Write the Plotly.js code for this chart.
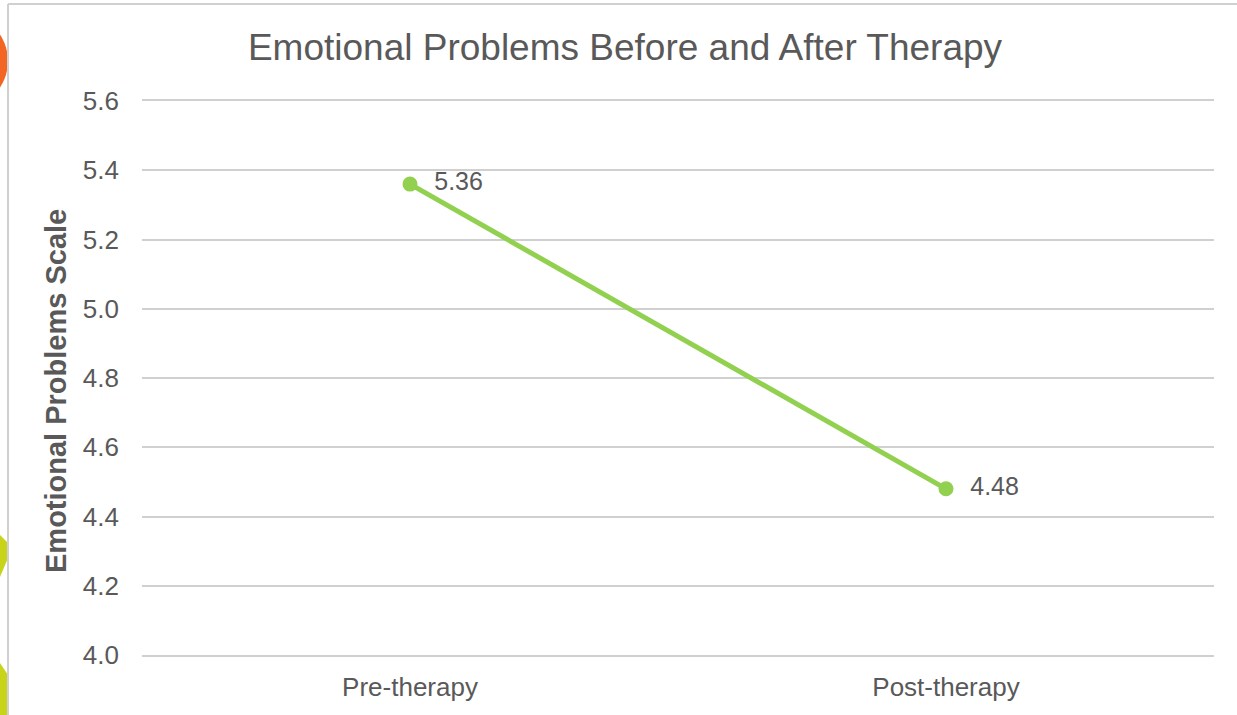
<!DOCTYPE html>
<html>
<head>
<meta charset="utf-8">
<script src="https://cdn.plot.ly/plotly-3.0.1.min.js"></script>
<style>html,body{margin:0;padding:0;background:#fff;}#chart{width:1237px;height:715px;}</style>
</head>
<body>
<div id="chart"></div>
<script>
// ---- data ----
const categories = ["Pre-therapy", "Post-therapy"];
const scaleValues = [5.36, 4.48];
const yTickValues = [4.0, 4.2, 4.4, 4.6, 4.8, 5.0, 5.2, 5.4, 5.6];

const chartTitle = "Emotional Problems Before and After Therapy";
const yTitle = "Emotional Problems Scale";

// ---- layout helpers (pixel -> paper) ----
const W = 1237, H = 715;
const M = {l: 142, r: 23, t: 101, b: 60};
const PW = W - M.l - M.r, PH = H - M.t - M.b;
const px = x => (x - M.l) / PW;
const py = y => (H - M.b - y) / PH;

const grey = "#595959";
const gridGrey = "#d0d0d0";
const font = "Liberation Sans, Arial, sans-serif";

function poly(pts, color) {
  let d = pts.map((p, i) => (i ? "L" : "M") + px(p[0]) + "," + py(p[1])).join(" ") + " Z";
  return {type: "path", xref: "paper", yref: "paper", path: d, fillcolor: color, line: {width: 0}, layer: "below"};
}

const shapes = [
  // decorative slide shapes at left edge
  {type: "circle", xref: "paper", yref: "paper", x0: px(-88), x1: px(8), y0: py(13), y1: py(109),
   fillcolor: "#F26522", line: {width: 0}, layer: "below"},
  poly([[0,535],[8,543],[8,558],[0,577]], "#C8D419"),
  poly([[0,663],[8,675],[8,720],[0,720]], "#C8D419"),
  // chart frame
  {type: "line", xref: "paper", yref: "paper", x0: px(8), x1: px(8), y0: py(4), y1: py(720),
   line: {color: gridGrey, width: 2}},
  {type: "line", xref: "paper", yref: "paper", x0: px(8), x1: px(1240), y0: py(4), y1: py(4),
   line: {color: gridGrey, width: 2}}
];

const trace = {
  x: categories,
  y: scaleValues,
  type: "scatter",
  mode: "lines+markers+text",
  line: {color: "#92D050", width: 5},
  marker: {color: "#92D050", size: 15},
  text: scaleValues.map(v => v.toFixed(2)),
  texttemplate: "\u00a0\u00a0%{text}",
  textposition: "middle right",
  textfont: {family: font, size: 25, color: grey},
  cliponaxis: false,
  hoverinfo: "x+y"
};

const layout = {
  width: W, height: H,
  margin: M,
  paper_bgcolor: "#fff",
  plot_bgcolor: "#fff",
  showlegend: false,
  font: {family: font, color: grey},
  title: {
    text: chartTitle,
    font: {family: font, size: 37, color: grey},
    x: 625 / W, xanchor: "center", xref: "container",
    y: 1 - 47 / H, yanchor: "middle", yref: "container"
  },
  xaxis: {
    type: "category",
    range: [-0.5, 1.5],
    showgrid: false,
    zeroline: false,
    showline: true,
    mirror: true,
    linecolor: gridGrey,
    linewidth: 2,
    ticks: "",
    ticklabelstandoff: 8,
    tickfont: {family: font, size: 26, color: grey},
    fixedrange: true
  },
  yaxis: {
    range: [4.0, 5.6],
    tickvals: yTickValues,
    ticktext: yTickValues.map(v => v.toFixed(1)),
    showgrid: true,
    gridcolor: gridGrey,
    gridwidth: 2,
    zeroline: false,
    showline: false,
    ticks: "",
    ticklabelstandoff: 22,
    tickfont: {family: font, size: 26, color: grey},
    fixedrange: true
  },
  shapes: shapes,
  annotations: [{
    text: "<b>" + yTitle + "</b>",
    textangle: -90,
    xref: "paper", yref: "paper",
    x: px(56), y: py(391),
    xanchor: "center", yanchor: "middle",
    showarrow: false,
    font: {family: font, size: 29, color: grey}
  }]
};

Plotly.newPlot("chart", [trace], layout, {displayModeBar: false, staticPlot: true});
</script>
</body>
</html>
